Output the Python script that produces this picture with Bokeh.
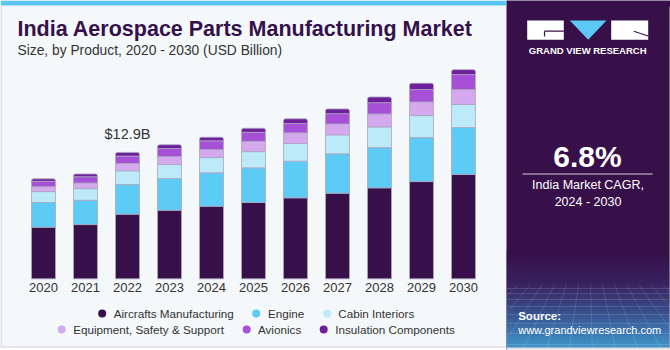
from bokeh.plotting import figure
from bokeh.layouts import row
from bokeh.models import (Range1d, FactorRange, Legend, LegendItem, ColumnDataSource,
                          CategoricalAxis)
from bokeh.core.properties import value
from bokeh.embed import file_html
from bokeh.resources import INLINE

# ---------------- data (USD Billion) ----------------
years = ["2020", "2021", "2022", "2023", "2024", "2025", "2026", "2027", "2028", "2029", "2030"]
aircrafts = [5.27, 5.54, 6.60, 7.00, 7.41, 7.79, 8.27, 8.74, 9.29, 9.93, 10.65]
engine = [2.52, 2.48, 3.03, 3.24, 3.41, 3.54, 3.74, 4.02, 4.11, 4.49, 4.80]
cabin = [1.12, 1.19, 1.40, 1.43, 1.56, 1.66, 1.81, 1.94, 2.11, 2.25, 2.35]
equipment = [0.51, 0.58, 0.75, 0.82, 0.82, 1.05, 1.09, 1.12, 1.33, 1.40, 1.53]
avionics = [0.54, 0.64, 0.75, 0.82, 0.89, 0.92, 0.95, 1.05, 1.15, 1.26, 1.53]
insulation = [0.25, 0.28, 0.38, 0.38, 0.37, 0.41, 0.48, 0.48, 0.58, 0.64, 0.50]
series_names = ["Aircrafts Manufacturing", "Engine", "Cabin Interiors",
                "Equipment, Safety & Support", "Avionics", "Insulation Components"]
highlight_year = "2022"
cagr_text = "6.8%"
cagr_label = ["India Market CAGR,", "2024 - 2030"]

# ---------------- styling ----------------
FONT = "Liberation Sans"
BG = "#F4F8FB"
PURPLE = "#37104A"
colors = ["#37104A", "#5CCBF5", "#BDEAF9", "#D5A9EE", "#A650D8", "#6E1F9B"]
keys = ["aircrafts", "engine", "cabin", "equipment", "avionics", "insulation"]

W_L, H = 506, 350
BASE_PX = 278.3            # pixel row of the value axis zero
PX_PER_B = 126.3 / 12.9    # pixels per USD billion
BAR_STEP_PX = 42.0
FIRST_BAR_PX = 43.0
pad_units = FIRST_BAR_PX / BAR_STEP_PX - 0.5

def fx(px):  # canvas pixel -> synthetic categorical coordinate
    return -pad_units + px / BAR_STEP_PX

def fy(py):  # canvas pixel row -> value coordinate
    return (BASE_PX - py) / PX_PER_B

# ---------------- left panel (one figure, frame = whole canvas) ----------------
p = figure(width=W_L, height=H,
           x_range=FactorRange(*years, range_padding=2 * pad_units / len(years),
                               range_padding_units="percent"),
           y_range=Range1d(fy(H), fy(0)),
           x_axis_location=None, y_axis_location=None, min_border=0, title=None,
           toolbar_location=None, output_backend="svg",
           background_fill_color=BG, border_fill_color=BG, outline_line_color=None)
p.grid.visible = False

# decorations: top strip, borders
p.quad(left=[fx(0)], right=[fx(W_L)], top=[fy(0)], bottom=[fy(5)], fill_color="#5DC6F0", line_color=None)
p.quad(left=[fx(0)], right=[fx(W_L)], top=[fy(347)], bottom=[fy(H)], fill_color="white", line_color=None)
p.segment(x0=[fx(0.5), fx(0)], x1=[fx(0.5), fx(W_L)], y0=[fy(5), fy(346.5)], y1=[fy(346.5), fy(346.5)],
          line_color="#CFCFD4", line_width=1)

# title / subtitle
p.text(x=[fx(17)], y=[fy(28.8)], text=["India Aerospace Parts Manufacturing Market"],
       text_font=value(FONT), text_font_style="bold", text_font_size="21.5px",
       text_color="#35104A", text_baseline="alphabetic", text_align="left")
p.text(x=[fx(17)], y=[fy(49.8)], text=["Size, by Product, 2020 - 2030 (USD Billion)"],
       text_font=value(FONT), text_font_size="13.8px",
       text_color="#333333", text_baseline="alphabetic", text_align="left")

# stacked bars
src = ColumnDataSource(dict(years=years, aircrafts=aircrafts, engine=engine, cabin=cabin,
                            equipment=equipment, avionics=avionics, insulation=insulation))
rs = p.vbar_stack(keys, x="years", width=0.57, fill_color=colors, source=src,
                  line_color="#ABA5BF", line_width=0.8)
try:
    rs[-1].glyph.border_radius = (2, 2, 0, 0)
except Exception:
    pass

idx = years.index(highlight_year)
total_h = aircrafts[idx] + engine[idx] + cabin[idx] + equipment[idx] + avionics[idx] + insulation[idx]
p.text(x=[highlight_year], y=[total_h], text=["$%.1fB" % total_h], y_offset=-18,
       text_font=value(FONT), text_font_size="14.5px", text_color="#333333",
       text_align="center", text_baseline="alphabetic")

xa = CategoricalAxis(fixed_location=0,
                     axis_line_color=None, major_tick_line_color=None,
                     minor_tick_line_color=None, major_label_standoff=-2,
                     major_label_text_font=FONT, major_label_text_font_size="13px",
                     major_label_text_color="#333333")
p.add_layout(xa, "below")

# legend (two centred rows)
dummies = [p.scatter(x=[fx(-50)], y=[fy(-50)], marker="circle", size=8, fill_color=c, line_color=None)
           for c in colors]

def make_legend(items, margin):
    return Legend(items=items, orientation="horizontal", location="top_center",
                  padding=0, margin=margin, spacing=12, glyph_width=20, glyph_height=20,
                  label_height=20, label_standoff=2, label_text_font=FONT,
                  label_text_font_size="11.7px", label_text_color="#333333",
                  border_line_color=None, background_fill_alpha=0)

items = [LegendItem(label=n, renderers=[r]) for n, r in zip(series_names, dummies)]
p.add_layout(make_legend(items[:3], 303))
p.add_layout(make_legend(items[3:], 319))

# ---------------- right panel ----------------
rp = figure(width=164, height=H, x_range=Range1d(0, 164), y_range=Range1d(H, 0),
            toolbar_location=None, output_backend="svg", title=None,
            x_axis_location=None, y_axis_location=None, min_border=0,
            background_fill_color=PURPLE, border_fill_color=PURPLE, outline_line_color=None)
rp.grid.visible = False

def hex2rgb(h):
    h = h.lstrip("#")
    return [int(h[i:i + 2], 16) for i in (0, 2, 4)]

stops = [(250, "#37104A"), (283, "#3A2563"), (312, "#3B5A98"), (347, "#42AAE0")]
sl, sr, st, sb, sc = [], [], [], [], []
for k in range(len(stops) - 1):
    y0, c0 = stops[k]
    y1, c1 = stops[k + 1]
    a, b = hex2rgb(c0), hex2rgb(c1)
    n = int(y1 - y0)
    for j in range(n):
        t = j / n
        sc.append("#%02x%02x%02x" % tuple(int(a[i] + (b[i] - a[i]) * t) for i in range(3)))
        sl.append(0); sr.append(164); st.append(y0 + j); sb.append(y0 + j + 1.2)
rp.quad(left=sl, right=sr, top=st, bottom=sb, fill_color=sc, line_color=None)

# faint perspective grid
hy = [288, 293, 299, 306, 314, 323, 333, 344]
rp.segment(x0=[0] * len(hy), x1=[164] * len(hy), y0=hy, y1=hy,
           line_color="white", line_alpha=0.13, line_width=1)
vx_top = [i * 12 for i in range(15)]
vx_bot = [82 + (x - 82) * 1.9 for x in vx_top]
rp.segment(x0=vx_top, x1=vx_bot, y0=[284] * len(vx_top), y1=[347] * len(vx_top),
           line_color="white", line_alpha=0.12, line_width=1)
rp.quad(left=[0], right=[164], top=[347], bottom=[350], fill_color="#E6E6EA", line_color=None)
rp.segment(x0=[163.5], x1=[163.5], y0=[6], y1=[347], line_color="#BEB8C8", line_width=1)

# logo
rp.quad(left=[20.7, 104.7], right=[57.3, 141.7], top=[20, 20], bottom=[39.3, 39.3],
        fill_color="white", line_color=None)
rp.patch(x=[63.3, 100, 81.7], y=[20, 20, 39.3], fill_color="#5BC8F5", line_color=None)
rp.segment(x0=[38, 38, 127.3], x1=[57.3, 38, 141.7], y0=[30.7, 30.7, 30.7], y1=[30.7, 36, 35.5],
           line_color=PURPLE, line_width=1.2)
rp.text(x=[81.2], y=[50.3], text=["GRAND VIEW RESEARCH"], text_font=value(FONT),
        text_font_style="bold", text_font_size="9.5px", text_color="white",
        text_align="center", text_baseline="alphabetic")

rp.text(x=[81], y=[156], text=[cagr_text], text_font=value(FONT), text_font_style="bold",
        text_font_size="30px", text_color="white", text_align="center", text_baseline="alphabetic")
rp.segment(x0=[16], x1=[146], y0=[173.5], y1=[173.5], line_color="#D6CEE0", line_width=1)
rp.text(x=[81.5, 81.5], y=[184.7, 201], text=cagr_label, text_font=value(FONT),
        text_font_size="12.5px", text_color="white", text_align="center", text_baseline="alphabetic")
rp.text(x=[11.7], y=[315.8], text=["Source:"], text_font=value(FONT), text_font_style="bold",
        text_font_size="11.5px", text_color="white", text_align="left", text_baseline="alphabetic")
rp.text(x=[11.7], y=[329.8], text=["www.grandviewresearch.com"], text_font=value(FONT),
        text_font_size="11px", text_color="white", text_align="left", text_baseline="alphabetic")

layout = row(p, rp)
open("out.html", "w").write(file_html(layout, INLINE))
